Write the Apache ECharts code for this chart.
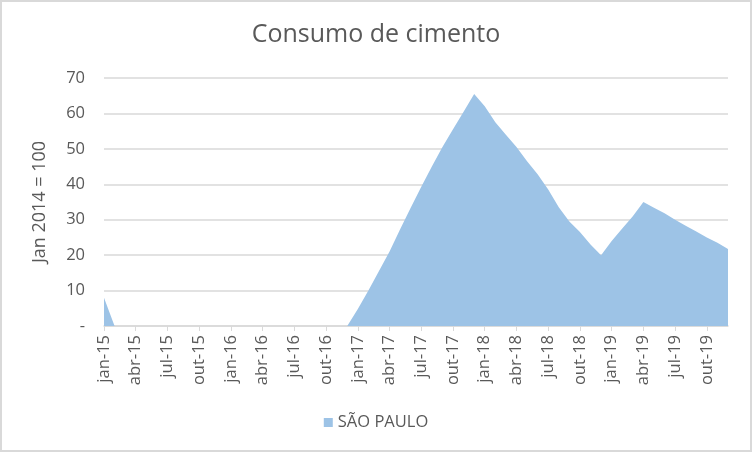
<!DOCTYPE html>
<html>
<head>
<meta charset="utf-8">
<script src="https://cdn.jsdelivr.net/npm/echarts@6/dist/echarts.min.js"></script>
<style>
  html, body { margin: 0; padding: 0; background: #fff; }
  #chart { width: 752px; height: 452px; box-sizing: border-box; border: 2px solid #d9d9d9; }
</style>
</head>
<body>
<div id="chart"></div>
<script>
var months = ['jan', 'fev', 'mar', 'abr', 'mai', 'jun', 'jul', 'ago', 'set', 'out', 'nov', 'dez'];
var years = ['15', '16', '17', '18', '19'];
var categories = [];
years.forEach(function (y) {
    months.forEach(function (m) { categories.push(m + '-' + y); });
});

var saoPaulo = [
    8, 0, 0, 0, 0, 0, 0, 0, 0, 0, 0, 0,
    0, 0, 0, 0, 0, 0, 0, 0, 0, 0, 0, 0,
    4.8, 10, 15.5, 21, 27.3, 33.4, 39.3, 45, 50.5, 55.5, 60.5, 65.5,
    62, 57.5, 54, 50.5, 46.5, 42.8, 38.5, 33.5, 29.5, 26.5, 23, 20,
    24, 27.5, 31, 35, 33.4, 31.8, 30, 28.3, 26.7, 25, 23.5, 21.7
];

var yTicks = [0, 10, 20, 30, 40, 50, 60, 70];

var myChart = echarts.init(document.getElementById('chart'));
var option = {
    animation: false,
    textStyle: { fontFamily: 'Open Sans' },
    title: {
        text: 'Consumo de cimento',
        left: 'center',
        top: 15,
        textStyle: { color: '#595959', fontSize: 25, fontWeight: 'normal', fontFamily: 'Open Sans' }
    },
    legend: {
        data: ['SÃO PAULO'],
        bottom: 14,
        left: 'center',
        icon: 'rect',
        itemWidth: 9,
        itemHeight: 9,
        itemGap: 5,
        textStyle: { color: '#595959', fontSize: 16.5 }
    },
    grid: {
        left: 102,
        right: 22,
        top: 76,
        bottom: 124
    },
    xAxis: {
        type: 'category',
        boundaryGap: false,
        data: categories,
        axisLine: { lineStyle: { color: '#d9d9d9', width: 1.5 } },
        axisTick: { interval: 2, length: 5, lineStyle: { color: '#d9d9d9' } },
        axisLabel: {
            interval: 2,
            rotate: 90,
            color: '#595959',
            fontSize: 16.5,
            margin: 9
        },
        splitLine: { show: false }
    },
    yAxis: {
        type: 'value',
        min: yTicks[0],
        max: yTicks[yTicks.length - 1],
        interval: 10,
        name: 'Jan 2014 = 100',
        nameLocation: 'middle',
        nameGap: 55,
        nameTextStyle: { color: '#595959', fontSize: 18 },
        axisLine: { show: false },
        axisTick: { show: false },
        axisLabel: {
            color: '#595959',
            fontSize: 16.5,
            margin: 19,
            formatter: function (v) { return v === 0 ? '-' : v; }
        },
        splitLine: { lineStyle: { color: '#d9d9d9', width: 1.5 } }
    },
    series: [
        {
            name: 'SÃO PAULO',
            type: 'line',
            data: saoPaulo,
            showSymbol: false,
            symbol: 'none',
            lineStyle: { width: 0, color: '#9dc3e6' },
            itemStyle: { color: '#9dc3e6' },
            areaStyle: { color: '#9dc3e6', opacity: 1 }
        }
    ]
};
myChart.setOption(option);
</script>
</body>
</html>
